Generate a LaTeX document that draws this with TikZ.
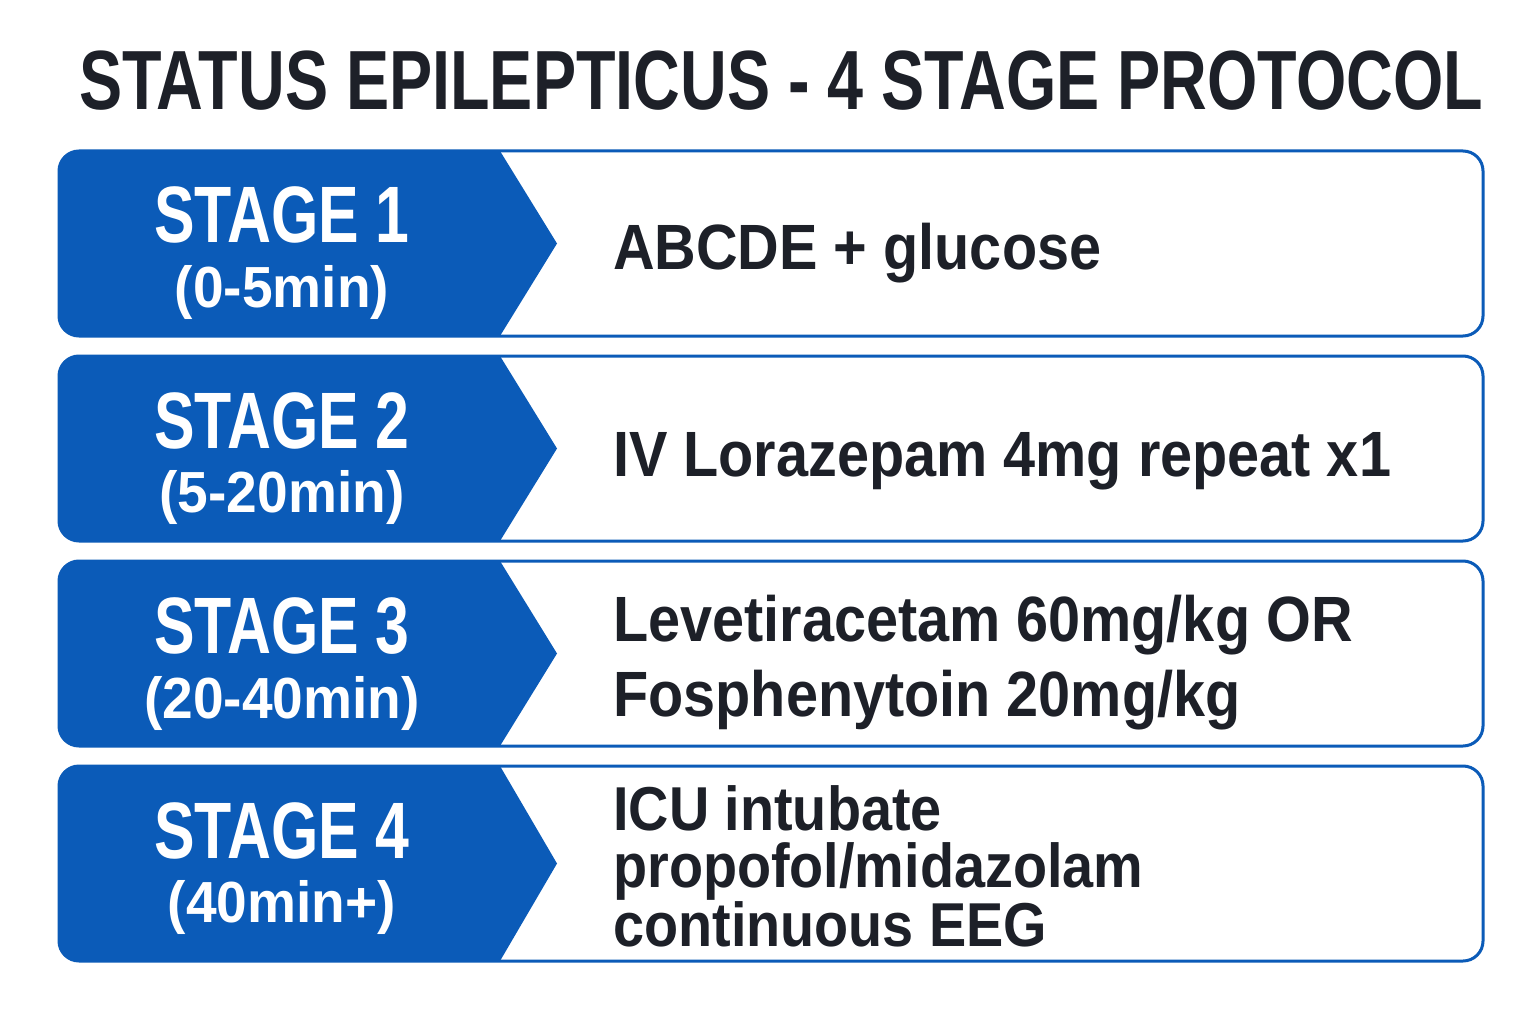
\documentclass[tikz,border=0pt]{standalone}
\usepackage{fontspec}
\setmainfont{Liberation Sans}
\newfontfamily\titlefont[FakeStretch=0.77]{Liberation Sans Bold}
\newfontfamily\stagefont[FakeStretch=0.76]{Liberation Sans Bold}
\newfontfamily\subfont[FakeStretch=0.95]{Liberation Sans Bold}
\newfontfamily\bodyfont[FakeStretch=0.9]{Liberation Sans Bold}
\definecolor{stageblue}{RGB}{11,91,184}
\definecolor{inkdark}{RGB}{29,32,40}

\begin{document}
\begin{tikzpicture}[x=1pt, y=-1pt,
        headline/.style={text=inkdark, font=\titlefont\fontsize{84}{96}\selectfont, anchor=base, inner sep=0pt},
        stagename/.style={text=white, font=\stagefont\fontsize{80}{90}\selectfont, anchor=base, inner sep=0pt},
        stagetime/.style={text=white, font=\subfont\fontsize{58}{66}\selectfont, anchor=base, inner sep=0pt},
        stepitem/.style={text=inkdark, font=\bodyfont\fontsize{64}{75}\selectfont, anchor=base west, align=left, inner sep=0pt},
        rowframe/.style={draw=stageblue, line width=3pt, rounded corners=20pt}]
    \useasboundingbox (0,0) rectangle (1536,1024);
    \fill[white] (0,0) rectangle (1536,1024);

    \node[headline] (title) at (781,110) {STATUS EPILEPTICUS - 4 STAGE PROTOCOL};

    % stage 1
    \begin{scope}
        \clip[rounded corners=20pt] (59,151) rectangle (1483,336);
        \fill[stageblue] (59,151) -- (500,151) -- (557,243.5) -- (500,336) -- (59,336) -- cycle;
    \end{scope}
    \draw[rowframe] (59,151) rectangle (1483,336);
    \node[stagename] (s1name) at (282,243) {STAGE 1};
    \node[stagetime] (s1time) at (282,307) {(0-5min)};
    \node[stepitem] (s1item) at (613,270) {ABCDE + glucose};

    % stage 2
    \begin{scope}
        \clip[rounded corners=20pt] (59,356) rectangle (1483,541);
        \fill[stageblue] (59,356) -- (500,356) -- (557,448.5) -- (500,541) -- (59,541) -- cycle;
    \end{scope}
    \draw[rowframe] (59,356) rectangle (1483,541);
    \node[stagename] (s2name) at (282,448) {STAGE 2};
    \node[stagetime] (s2time) at (282,512) {(5-20min)};
    \node[stepitem] (s2item) at (613,476) {IV Lorazepam 4mg repeat x1};

    % stage 3
    \begin{scope}
        \clip[rounded corners=20pt] (59,561) rectangle (1483,746);
        \fill[stageblue] (59,561) -- (500,561) -- (557,653.5) -- (500,746) -- (59,746) -- cycle;
    \end{scope}
    \draw[rowframe] (59,561) rectangle (1483,746);
    \node[stagename] (s3name) at (282,653) {STAGE 3};
    \node[stagetime] (s3time) at (282,718) {(20-40min)};
    \node[stepitem] (s3item) at (613,716) {Levetiracetam 60mg/kg OR\\Fosphenytoin 20mg/kg};

    % stage 4
    \begin{scope}
        \clip[rounded corners=20pt] (59,766) rectangle (1483,961);
        \fill[stageblue] (59,766) -- (500,766) -- (557,863.5) -- (500,961) -- (59,961) -- cycle;
    \end{scope}
    \draw[rowframe] (59,766) rectangle (1483,961);
    \node[stagename] (s4name) at (282,858) {STAGE 4};
    \node[stagetime] (s4time) at (282,922) {(40min+)};
    \node[stepitem, font=\bodyfont\fontsize{62}{56.5}\selectfont] (s4item) at (613,946) {ICU intubate\\propofol/midazolam\\continuous EEG};
\end{tikzpicture}
\end{document}
